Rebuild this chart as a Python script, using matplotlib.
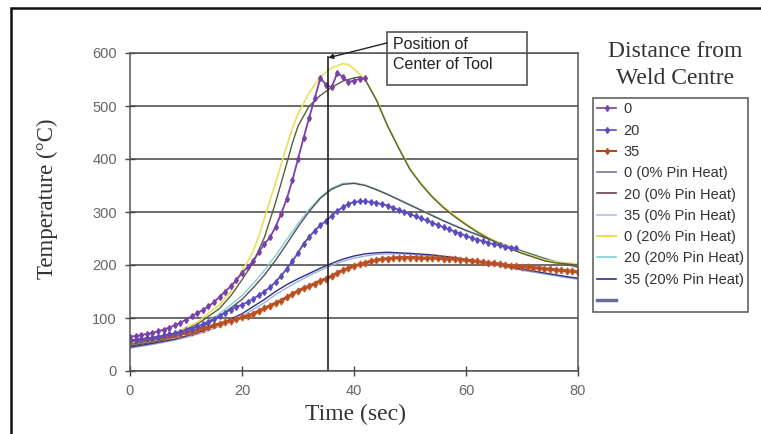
import matplotlib
matplotlib.use("Agg")
import matplotlib.pyplot as plt
from matplotlib.lines import Line2D
from matplotlib.patches import Rectangle

# measured values (thermocouples), one value per second
t_0 = list(range(0, 43))
m_0 = [65, 66, 68, 70, 72, 75, 78, 82, 86, 91, 97, 103, 109, 115, 122, 130, 140, 150,
       160, 172, 185, 196, 208, 224, 240, 252, 272, 297, 325, 360, 400, 440, 478, 515,
       553, 540, 535, 562, 555, 545, 548, 551, 552]

t_20 = list(range(0, 70))
m_20 = [58, 59, 60, 62, 63, 65, 67, 69, 71, 74, 77, 80, 84, 88, 93, 98, 104, 110, 116,
        121, 125, 130, 136, 143, 150, 158, 168, 180, 193, 207, 223, 240, 253, 265, 275,
        283, 293, 302, 309, 315, 319, 320, 320, 319, 317, 315, 312, 308, 304, 300, 296,
        292, 288, 284, 280, 275, 271, 267, 263, 259, 255, 251, 248, 245, 242, 239, 237,
        234, 233, 232]

t_35 = list(range(0, 81))
m_35 = [57, 58, 59, 60, 61, 63, 64, 66, 68, 70, 72, 74, 77, 80, 83, 86, 89, 92, 95, 98,
        101, 104, 108, 113, 118, 123, 128, 133, 139, 145, 151, 156, 160, 165, 170, 174,
        179, 185, 190, 194, 198, 201, 204, 207, 209, 211, 212, 213, 214, 214, 214, 214,
        213, 213, 213, 213, 212, 212, 211, 210, 209, 208, 207, 205, 204, 203, 202, 200,
        199, 198, 197, 196, 195, 194, 193, 192, 191, 190, 189, 188, 187]

# model results
t_a = [0, 4, 8, 12, 16, 18, 20, 22, 24, 26, 27, 28, 29, 30, 32, 34, 36, 38, 40, 41, 42,
       43, 44, 46, 48, 50, 52, 54, 56, 58, 60, 62, 64, 66, 68, 70, 72, 74, 76, 78, 80]
p0_0 = [50, 58, 69, 88, 118, 142, 172, 205, 252, 318, 355, 392, 430, 462, 500, 520, 535,
        547, 553, 555, 550, 530, 511, 462, 420, 380, 352, 328, 308, 291, 276, 262, 250,
        240, 230, 222, 215, 208, 204, 202, 200]

t_b = [0, 4, 8, 12, 16, 18, 19, 20, 21, 22, 23, 24, 25, 26, 27, 28, 29, 30, 31, 32, 34,
       36, 38, 39, 40, 41, 42, 43, 44, 46, 48, 50, 52, 54, 56, 58, 60, 62, 64, 66, 68, 70,
       72, 74, 76, 78, 80]
p0_20 = [52, 60, 72, 92, 125, 150, 170, 190, 206, 226, 255, 288, 322, 355, 390, 425, 458,
         485, 505, 525, 555, 572, 580, 578, 570, 560, 550, 532, 513, 464, 422, 382, 354,
         330, 310, 293, 278, 264, 252, 242, 232, 224, 217, 210, 206, 204, 202]

t_c = [0, 4, 8, 12, 14, 16, 18, 20, 22, 24, 26, 28, 30, 32, 34, 36, 38, 40, 42, 44, 46,
       48, 50, 52, 54, 56, 58, 60, 62, 64, 66, 68, 70, 72, 74, 76, 78, 80]
p20_0 = [47, 54, 64, 79, 90, 103, 119, 135, 157, 181, 209, 240, 272, 301, 326, 343, 352,
         354, 350, 342, 333, 323, 313, 303, 293, 283, 274, 265, 257, 249, 241, 233, 226,
         219, 212, 206, 201, 196]
p20_20 = [48, 55, 66, 82, 94, 108, 125, 142, 165, 190, 218, 248, 278, 305, 328, 345, 354,
          355, 351, 343, 334, 324, 314, 304, 294, 284, 275, 266, 258, 250, 242, 234, 227,
          220, 213, 207, 202, 197]

t_d = [0, 4, 8, 12, 16, 20, 24, 26, 28, 30, 32, 34, 36, 38, 40, 42, 44, 46, 48, 50, 54,
       58, 62, 66, 70, 74, 78, 80]
p35_0 = [43, 50, 58, 69, 84, 103, 129, 144, 157, 169, 180, 190, 199, 207, 213, 217, 220,
         221, 221, 220, 217, 212, 205, 198, 190, 183, 176, 173]
p35_20 = [45, 52, 60, 72, 88, 108, 135, 150, 163, 174, 184, 194, 203, 211, 217, 221, 223,
          224, 223, 222, 219, 214, 207, 200, 192, 185, 178, 175]

tool_centre = 35.4

fig = plt.figure(figsize=(7.61, 4.34), dpi=100)
ax = fig.add_axes([130 / 761, 1 - 371 / 434, 448 / 761, 318 / 434])

ax.plot(t_d, p35_0, color="#9db4d8", lw=1.0)
ax.plot(t_d, p35_20, color="#2b2f8a", lw=1.0)
ax.plot(t_c, p20_20, color="#7fd0d8", lw=1.0)
ax.plot(t_c, p20_0, color="#5a4f55", lw=1.0)
ax.plot(t_b, p0_20, color="#e8e05a", lw=1.2)
ax.plot(t_a, p0_0, color="#55603a", lw=1.0)

ax.plot(t_35, m_35, color="#b5451b", lw=2.2, marker="d", ms=3.5, mec="#c05a2a")
ax.plot(t_20, m_20, color="#5a4bc0", lw=1.3, marker="d", ms=3, mec="#5a4bc0")
ax.plot(t_0, m_0, color="#7b3fa8", lw=1.3, marker="d", ms=3, mec="#7b3fa8")

ax.plot([tool_centre, tool_centre], [0, 592], color="#202020", lw=1.2)

ax.set_xlim(0, 80)
ax.set_ylim(0, 600)
ax.set_xticks([0, 20, 40, 60, 80])
ax.set_yticks([0, 100, 200, 300, 400, 500, 600])
ax.yaxis.grid(True, color="#444444", lw=1.1)
ax.set_axisbelow(True)
ax.tick_params(direction="inout", length=7, width=1, colors="#444444",
               labelcolor="#666666", labelsize=10.5)
ax.tick_params(axis="y", pad=6)
ax.tick_params(axis="x", pad=6)
for s in ax.spines.values():
    s.set_color("#555555")
    s.set_linewidth(1.1)
for lab in ax.get_xticklabels() + ax.get_yticklabels():
    lab.set_fontfamily("Liberation Sans")

ax.set_xlabel("Time (sec)", family="Liberation Serif", fontsize=17, color="#333333",
              va="center")
ax.xaxis.set_label_coords(0.504, -0.138)
ax.set_ylabel("Temperature (°C)", family="Liberation Serif", fontsize=16.5,
              color="#333333", va="center")
ax.yaxis.set_label_coords(-0.185, 0.542)

# label for the tool position
ax.add_patch(Rectangle((45.9, 539.6), 25.0, 100.0, fill=False, ec="#555555", lw=1.2,
                       clip_on=False))
ax.text(47.0, 597, "Position of\nCenter of Tool", family="Liberation Sans", fontsize=11.5,
        color="#222222", va="center", ha="left", linespacing=1.45, clip_on=False)
ax.annotate("", xy=(tool_centre, 591), xytext=(45.9, 619), annotation_clip=False,
            arrowprops=dict(arrowstyle="-|>", color="#222222", lw=1.0,
                            shrinkA=0, shrinkB=0, mutation_scale=7))

handles = [
    Line2D([], [], color="#7b3fa8", marker="d", ms=3, lw=1.2, label="0"),
    Line2D([], [], color="#5a4bc0", marker="d", ms=3, lw=1.2, label="20"),
    Line2D([], [], color="#b5451b", marker="d", ms=3, lw=1.5, label="35"),
    Line2D([], [], color="#7a74a8", lw=1.2, label="0 (0% Pin Heat)"),
    Line2D([], [], color="#6a3f45", lw=1.2, label="20 (0% Pin Heat)"),
    Line2D([], [], color="#a9c0dc", lw=1.2, label="35 (0% Pin Heat)"),
    Line2D([], [], color="#e8e05a", lw=1.5, label="0 (20% Pin Heat)"),
    Line2D([], [], color="#7fd0d8", lw=1.2, label="20 (20% Pin Heat)"),
    Line2D([], [], color="#2b2f8a", lw=1.2, label="35 (20% Pin Heat)"),
    Line2D([], [], color="#6a6a9a", lw=2.5, label=" "),
]
leg = fig.legend(handles=handles, loc="upper left",
                 bbox_to_anchor=(593 / 761, 1 - 98 / 434),
                 prop={"family": "Liberation Sans", "size": 10.5},
                 labelspacing=0.5, handlelength=1.3, handletextpad=0.5,
                 borderpad=0.3, borderaxespad=0, fancybox=False, framealpha=1)
leg.get_frame().set_edgecolor("#555555")
leg.get_frame().set_linewidth(1.1)
for txt in leg.get_texts():
    txt.set_color("#333333")

fig.text(675 / 761, 1 - 65 / 434, "Distance from\nWeld Centre", family="Liberation Serif",
         fontsize=17, color="#333333", ha="center", va="center", linespacing=1.35)

# outer frame of the picture
fig.patches.append(Rectangle((11 / 761, -0.1), 1.0, 1.1 - 8 / 434, fill=False,
                             ec="#111111", lw=1.8, transform=fig.transFigure))

fig.savefig("out.png", dpi=100, facecolor="white")
